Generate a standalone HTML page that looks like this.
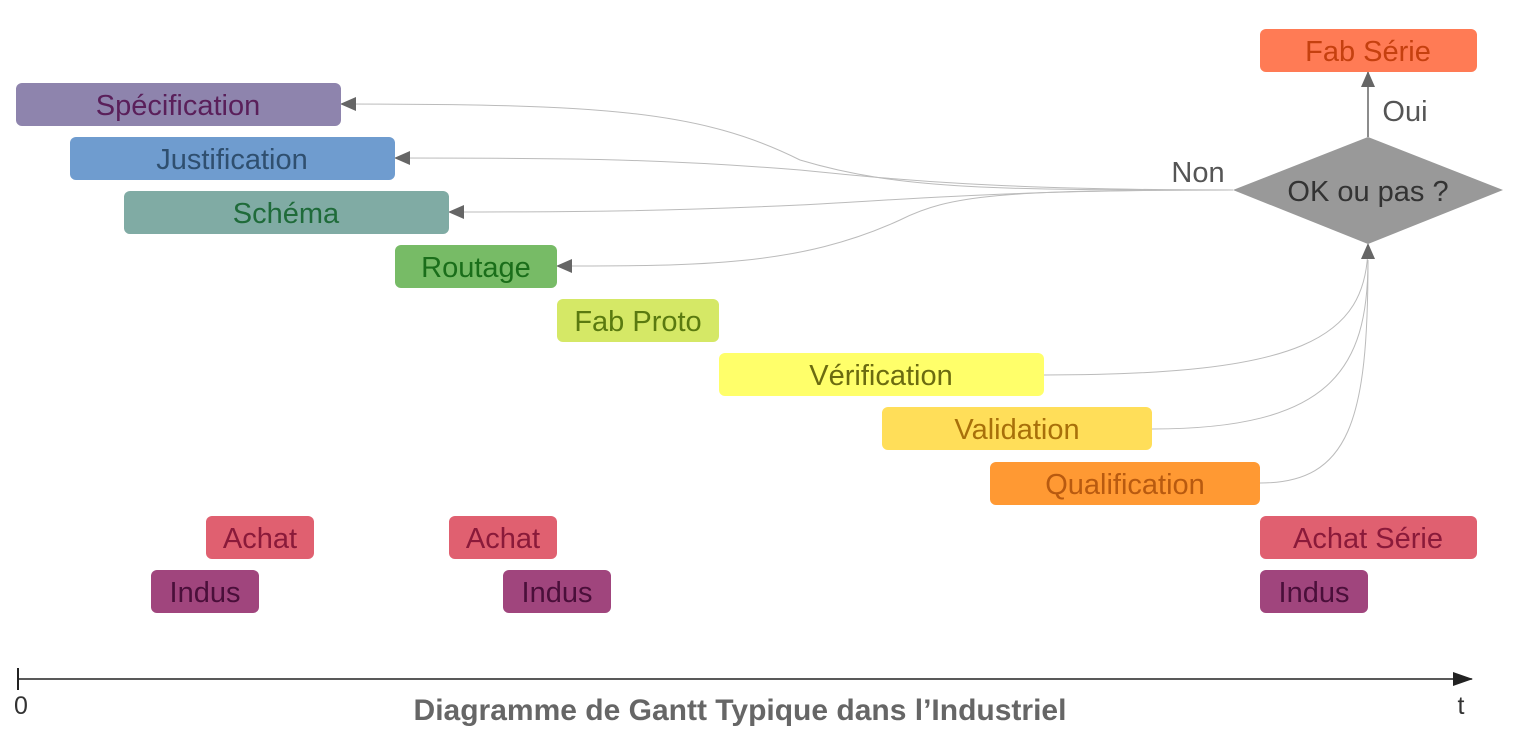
<!DOCTYPE html>
<html><head><meta charset="utf-8"><style>
html,body{margin:0;padding:0;background:#fff;}
svg{display:block;}
text{font-family:"Liberation Sans",sans-serif;}
</style></head><body>
<svg width="1524" height="738" viewBox="0 0 1524 738" xmlns="http://www.w3.org/2000/svg">
<defs>
<marker id="ah2" markerWidth="16" markerHeight="14" refX="15" refY="7" orient="auto" markerUnits="userSpaceOnUse">
<path d="M0,0 L16,7 L0,14 z" fill="#666"/>
</marker>
<marker id="ax" markerWidth="20" markerHeight="14" refX="19" refY="7" orient="auto" markerUnits="userSpaceOnUse">
<path d="M0,0 L20,7 L0,14 z" fill="#222"/>
</marker>
</defs>
<g fill="none" stroke="#bbb" stroke-width="1">
<path d="M1233,190 C1000,190 900,190 800,160 C700,110 600,104 341,104" marker-end="url(#ah2)"/>
<path d="M1233,190 C1000,190 900,180 800,170 C650,158 550,158 395,158" marker-end="url(#ah2)"/>
<path d="M1233,190 C1000,190 900,200 800,205 C650,212 550,212 449,212" marker-end="url(#ah2)"/>
<path d="M1233,190 C1000,190 950,195 900,220 C800,266 700,266 557,266" marker-end="url(#ah2)"/>
<path d="M1044,375 C1300,375 1368,340 1368,244" marker-end="url(#ah2)"/>
<path d="M1152,429 C1330,429 1368,370 1368,260"/>
<path d="M1260,483 C1350,483 1368,420 1368,260"/>
</g>
<line x1="1368" y1="137" x2="1368" y2="72" stroke="#666" stroke-width="1.5" marker-end="url(#ah2)"/>
<g font-size="29" text-anchor="middle">
<rect x="16" y="83" width="325" height="43" rx="6" fill="#8e84ad"/><text x="178" y="115" fill="#5a1f5a">Spécification</text>
<rect x="70" y="137" width="325" height="43" rx="6" fill="#6f9ccf"/><text x="232" y="169" fill="#2f4f6f">Justification</text>
<rect x="124" y="191" width="325" height="43" rx="6" fill="#80aba4"/><text x="286" y="223" fill="#1f6b3a">Schéma</text>
<rect x="395" y="245" width="162" height="43" rx="6" fill="#77bb66"/><text x="476" y="277" fill="#1a6e1a">Routage</text>
<rect x="557" y="299" width="162" height="43" rx="6" fill="#d5e866"/><text x="638" y="331" fill="#5a7a10">Fab Proto</text>
<rect x="719" y="353" width="325" height="43" rx="6" fill="#ffff6a"/><text x="881" y="385" fill="#6b6b10">Vérification</text>
<rect x="882" y="407" width="270" height="43" rx="6" fill="#ffde59"/><text x="1017" y="439" fill="#a8700a">Validation</text>
<rect x="990" y="462" width="270" height="43" rx="6" fill="#ff9933"/><text x="1125" y="494" fill="#b85a10">Qualification</text>
<rect x="206" y="516" width="108" height="43" rx="6" fill="#e06070"/><text x="260" y="548" fill="#8a1a3a">Achat</text>
<rect x="449" y="516" width="108" height="43" rx="6" fill="#e06070"/><text x="503" y="548" fill="#8a1a3a">Achat</text>
<rect x="1260" y="516" width="217" height="43" rx="6" fill="#e06070"/><text x="1368" y="548" fill="#8a1a3a">Achat Série</text>
<rect x="151" y="570" width="108" height="43" rx="6" fill="#a0457d"/><text x="205" y="602" fill="#4a0f3a">Indus</text>
<rect x="503" y="570" width="108" height="43" rx="6" fill="#a0457d"/><text x="557" y="602" fill="#4a0f3a">Indus</text>
<rect x="1260" y="570" width="108" height="43" rx="6" fill="#a0457d"/><text x="1314" y="602" fill="#4a0f3a">Indus</text>
<rect x="1260" y="29" width="217" height="43" rx="6" fill="#ff7b55"/><text x="1368" y="61" fill="#c5400f">Fab Série</text>
<path d="M1233,190 L1368,137 L1503,190 L1368,244 z" fill="#999"/>
<text x="1368" y="201" fill="#333">OK ou pas ?</text>
<text x="1405" y="121" fill="#555">Oui</text>
<text x="1198" y="182" fill="#555">Non</text>
</g>
<line x1="18" y1="679" x2="1472" y2="679" stroke="#222" stroke-width="1.5" marker-end="url(#ax)"/>
<line x1="18" y1="668" x2="18" y2="690" stroke="#222" stroke-width="2"/>
<text x="21" y="714" font-size="25" fill="#333" text-anchor="middle">0</text>
<text x="1461" y="714" font-size="25" fill="#333" text-anchor="middle">t</text>
<text x="740" y="720" font-size="30" font-weight="bold" fill="#666" text-anchor="middle">Diagramme de Gantt Typique dans l’Industriel</text>
</svg>
</body></html>
